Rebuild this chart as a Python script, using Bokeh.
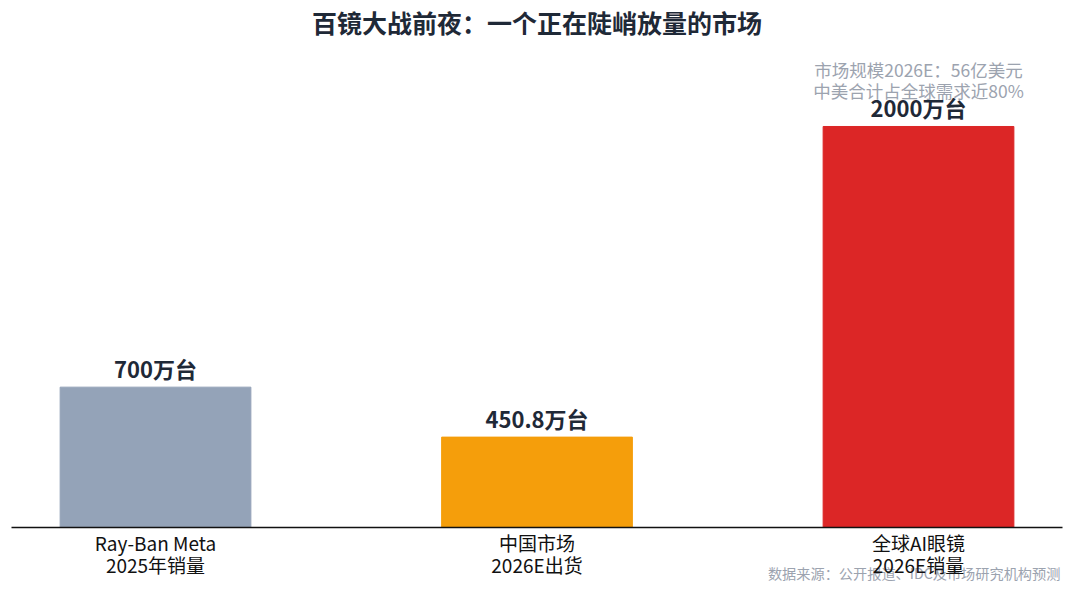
from bokeh.plotting import figure
from bokeh.models import ColumnDataSource, Range1d, FixedTicker
from bokeh.core.properties import value
from bokeh.embed import file_html
from bokeh.resources import INLINE

categories = ["Ray-Ban Meta\n2025年销量", "中国市场\n2026E出货", "全球AI眼镜\n2026E销量"]
values = [700, 450.8, 2000]
value_labels = ["700万台", "450.8万台", "2000万台"]
colors = ["#94A3B8", "#F59E0B", "#DC2626"]
title_text = "百镜大战前夜：一个正在陡峭放量的市场"
note_lines = ["市场规模2026E：56亿美元", "中美合计占全球需求近80%"]
source_text = "数据来源：公开报道、IDC及市场研究机构预测"

FONT = "Noto Sans CJK SC"
xs = list(range(len(categories)))

src = ColumnDataSource(dict(x=xs, top=values, label=value_labels, color=colors))

p = figure(width=1064, height=584, output_backend="svg", toolbar_location=None,
           x_range=Range1d(-0.4063, 2.3827), y_range=Range1d(-284.3, 2628.4),
           min_border=0)
p.outline_line_color = None
p.background_fill_color = "white"
p.border_fill_color = "white"
p.xgrid.visible = False
p.ygrid.visible = False
p.yaxis.visible = False

p.vbar(x="x", top="top", bottom=0, width=0.5, color="color", source=src)
p.text(x="x", y="top", text="label", source=src, text_align="center", text_baseline="middle",
       y_offset=-19, text_font=value(FONT), text_font_size="22px", text_font_style="bold",
       text_color="#1F2937")

p.text(x=[1.0], y=[2518.7], text=[title_text], text_align="center", text_baseline="middle",
       text_font=value(FONT), text_font_size="25px", text_font_style="bold",
       text_color="#1F2937")
p.text(x=[2.0, 2.0], y=[2284, 2179], text=note_lines, text_align="center",
       text_baseline="middle", text_font=value(FONT), text_font_size="17.5px",
       text_color="#9CA3AF")
p.text(x=[2.372], y=[-229.4], text=[source_text], text_align="right", text_baseline="middle",
       text_font=value(FONT), text_font_size="14.2px", text_color="#9CA3AF")

ax = p.xaxis[0]
ax.fixed_location = 0
ax.bounds = (-0.3775, 2.3775)
ax.ticker = FixedTicker(ticks=xs)
ax.major_label_overrides = {i: c for i, c in enumerate(categories)}
ax.major_tick_line_color = None
ax.minor_tick_line_color = None
ax.axis_line_color = "#111111"
ax.axis_line_width = 1.5
ax.major_label_text_font = FONT
ax.major_label_text_font_size = "19px"
ax.major_label_text_color = "#111111"
ax.major_label_text_line_height = 0.8
ax.major_label_standoff = -4

open("out.html", "w").write(file_html(p, INLINE))
